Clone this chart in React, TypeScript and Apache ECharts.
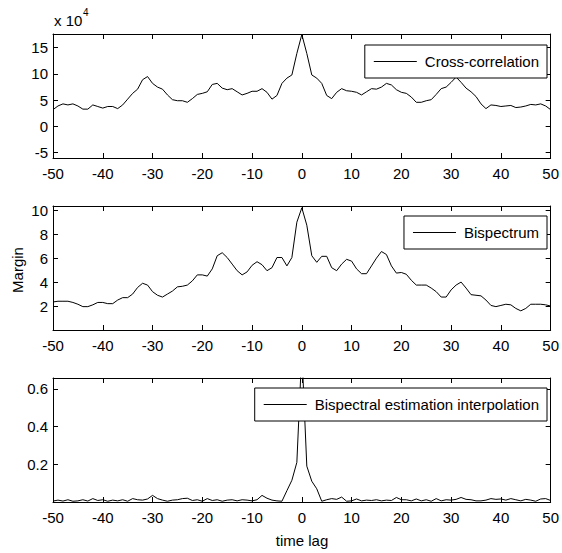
import React, { useEffect, useRef } from "react";
import * as echarts from "echarts";

// time lags -50..50
const lags: number[] = Array.from({ length: 101 }, (_, i) => i - 50);

// Panel 1: cross-correlation, in units of x10^4
const crossCorr: number[] = [
  3.2, 3.9, 4.3, 4.1, 4.3, 3.9, 3.3, 3.3, 4.1, 3.8,
  3.5, 3.8, 3.8, 3.4, 4.1, 5.2, 6.3, 7.1, 8.9, 9.5,
  8.2, 7.5, 7.1, 6.0, 5.1, 4.9, 4.9, 4.6, 5.3, 6.1,
  6.3, 6.6, 8.0, 8.2, 7.3, 7.0, 7.2, 6.6, 6.0, 6.3,
  6.7, 6.7, 7.2, 6.5, 5.2, 5.9, 8.2, 9.2, 9.8, 13.9,
  17.5,
  13.9, 9.8, 9.2, 8.2, 5.9, 5.3, 6.5, 7.2, 6.8, 6.7,
  6.5, 6.0, 6.6, 7.2, 7.1, 7.5, 8.2, 7.9, 7.0, 6.5,
  6.3, 5.6, 4.6, 4.6, 4.9, 5.1, 6.1, 7.2, 7.5, 8.4,
  9.4, 8.4, 7.3, 6.6, 5.7, 4.3, 3.4, 4.1, 4.0, 3.8,
  3.9, 4.0, 3.6, 3.7, 3.9, 4.2, 4.1, 4.3, 3.9, 3.2,
];

// Panel 2: bispectrum margin
const bispectrum: number[] = [
  2.34, 2.4, 2.4, 2.4, 2.3, 2.15, 1.95, 1.95, 2.1, 2.3,
  2.3, 2.2, 2.2, 2.5, 2.7, 2.7, 3.0, 3.55, 3.9, 3.75,
  3.2, 2.9, 2.75, 3.0, 3.25, 3.6, 3.65, 3.75, 4.1, 4.6,
  4.6, 4.5, 5.1, 6.2, 6.45, 6.05, 5.5, 4.95, 4.6, 4.85,
  5.4, 5.7, 5.45, 4.95, 5.2, 6.05, 6.05, 5.35, 6.05, 9.0,
  10.2,
  8.75, 6.2, 5.65, 6.15, 6.15, 5.2, 4.95, 5.5, 5.9, 5.75,
  5.1, 4.7, 4.7, 5.35, 6.0, 6.55, 6.3, 5.35, 4.75, 4.8,
  4.65, 4.15, 3.75, 3.75, 3.75, 3.5, 3.2, 2.75, 2.75, 3.35,
  3.75, 4.0, 3.5, 2.95, 2.9, 2.85, 2.5, 2.05, 1.95, 2.05,
  2.15, 2.1, 1.8, 1.6, 1.8, 2.15, 2.15, 2.15, 2.1, 2.0,
];

// Panel 3: bispectral estimation interpolation
const interpolation: number[] = [
  0.005, 0.01, 0.005, 0.012, 0.004, 0.006, 0.012, 0.005, 0.018, 0.008,
  0.012, 0.004, 0.01, 0.006, 0.012, 0.004, 0.018, 0.012, 0.01, 0.016,
  0.035, 0.018, 0.01, 0.004, 0.01, 0.012, 0.018, 0.02, 0.008, 0.012,
  0.004, 0.018, 0.008, 0.012, 0.004, 0.01, 0.012, 0.006, 0.012, 0.01,
  0.006, 0.012, 0.035, 0.02, 0.01, 0.006, 0.004, 0.06, 0.115, 0.21,
  0.8,
  0.19, 0.11, 0.07, 0.004, 0.012, 0.018, 0.014, 0.026, 0.004, 0.006,
  0.016, 0.006, 0.01, 0.008, 0.012, 0.006, 0.01, 0.008, 0.024, 0.012,
  0.012, 0.006, 0.016, 0.006, 0.012, 0.004, 0.018, 0.006, 0.012, 0.01,
  0.014, 0.024, 0.014, 0.012, 0.006, 0.006, 0.01, 0.018, 0.014, 0.016,
  0.01, 0.018, 0.012, 0.006, 0.014, 0.01, 0.004, 0.016, 0.018, 0.008,
];

const seriesNames: string[] = [
  "Cross-correlation",
  "Bispectrum",
  "Bispectral estimation interpolation",
];
const yTicks1: number[] = [-5, 0, 5, 10, 15];
const yTicks2: number[] = [2, 4, 6, 8, 10];
const yTicks3: number[] = [0.2, 0.4, 0.6];
const yRanges: [number, number][] = [
  [-6, 17.6],
  [0, 10.35],
  [0, 0.657],
];

const FONT = "Liberation Sans, Arial, sans-serif";

export default function App() {
  const ref = useRef<HTMLDivElement>(null);
  useEffect(() => {
    if (!ref.current) return;
    const chart = echarts.init(ref.current, null, { renderer: "svg" });
    const gridTops = [34, 206, 378];
    const allData = [crossCorr, bispectrum, interpolation];
    const yTickSets = [yTicks1, yTicks2, yTicks3];
    const legendTops = [45, 216, 388];

    const grids = gridTops.map((t) => ({
      left: 53,
      top: t,
      width: 500,
      height: 124,
      show: false,
    }));

    const axisLine = { show: true, onZero: false, lineStyle: { color: "#000", width: 1 } };
    const xAxes: any[] = [];
    const yAxes: any[] = [];
    gridTops.forEach((_, i) => {
      xAxes.push({
        type: "value",
        gridIndex: i,
        position: "bottom",
        min: -50,
        max: 50,
        interval: 10,
        axisLine,
        axisTick: { show: true, inside: true, length: 5, lineStyle: { color: "#000" } },
        axisLabel: { show: true, margin: 8, color: "#000", fontSize: 15, fontFamily: FONT },
        splitLine: { show: false },
      });
      xAxes.push({
        type: "value",
        gridIndex: i,
        position: "top",
        min: -50,
        max: 50,
        interval: 10,
        axisLine,
        axisTick: { show: true, inside: true, length: 5, lineStyle: { color: "#000" } },
        axisLabel: { show: false },
        splitLine: { show: false },
      });
      const ticks = yTickSets[i];
      yAxes.push({
        type: "value",
        gridIndex: i,
        position: "left",
        min: yRanges[i][0],
        max: yRanges[i][1],
        axisLine,
        axisTick: { show: true, inside: true, length: 5, customValues: ticks, lineStyle: { color: "#000" } },
        axisLabel: { show: true, margin: 5, customValues: ticks, color: "#000", fontSize: 15, fontFamily: FONT },
        splitLine: { show: false },
      });
      yAxes.push({
        type: "value",
        gridIndex: i,
        position: "right",
        min: yRanges[i][0],
        max: yRanges[i][1],
        axisLine,
        axisTick: { show: true, inside: true, length: 5, customValues: ticks, lineStyle: { color: "#000" } },
        axisLabel: { show: false, customValues: ticks },
        splitLine: { show: false },
      });
    });

    const series = allData.map((vals, i) => ({
      name: seriesNames[i],
      type: "line",
      xAxisIndex: i * 2,
      yAxisIndex: i * 2,
      data: lags.map((l, k) => [l, vals[k]]),
      symbol: "none",
      showSymbol: false,
      clip: true,
      lineStyle: { color: "#000", width: 1 },
      itemStyle: { color: "#000" },
      z: 2,
    }));

    const legends = seriesNames.map((n, i) => ({
      data: [{ name: n, icon: "rect" }],
      right: 15,
      top: legendTops[i],
      orient: "horizontal",
      padding: [9, 8, 9, 9],
      itemWidth: 43,
      itemHeight: 1,
      itemStyle: { color: "#000", borderWidth: 0 },
      backgroundColor: "#fff",
      borderColor: "#000",
      borderWidth: 1,
      selectedMode: false,
      textStyle: { color: "#000", fontSize: 15, fontFamily: FONT, padding: [0, 0, 0, 3] },
      z: 10,
    }));

    chart.setOption({
      animation: false,
      backgroundColor: "#fff",
      grid: grids,
      xAxis: xAxes,
      yAxis: yAxes,
      series,
      legend: legends,
      graphic: [
        {
          type: "text",
          left: 54,
          top: 13,
          style: { text: "x 10", fontSize: 15, fontFamily: FONT, fill: "#000" },
        },
        {
          type: "text",
          left: 83,
          top: 7,
          style: { text: "4", fontSize: 10, fontFamily: FONT, fill: "#000" },
        },
        {
          type: "text",
          x: 17,
          y: 270,
          rotation: Math.PI / 2,
          style: {
            text: "Margin",
            fontSize: 15,
            fontFamily: FONT,
            fill: "#000",
            align: "center",
            verticalAlign: "middle",
          },
        },
        {
          type: "text",
          x: 302,
          y: 540,
          style: {
            text: "time lag",
            fontSize: 15,
            fontFamily: FONT,
            fill: "#000",
            align: "center",
            verticalAlign: "middle",
          },
        },
      ],
    });
    return () => chart.dispose();
  }, []);
  return (
    <div
      ref={ref}
      style={{ position: "fixed", left: 0, top: 0, width: 562, height: 553, background: "#fff" }}
    />
  );
}
